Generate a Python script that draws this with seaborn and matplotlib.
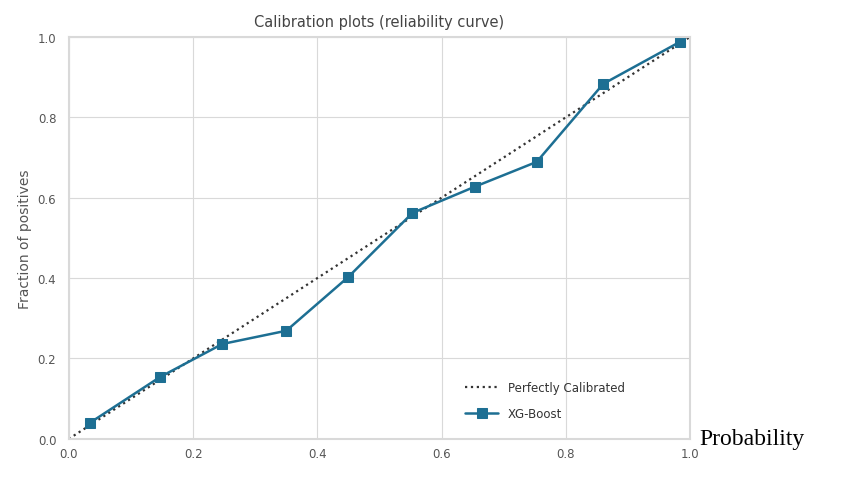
import numpy as np
import pandas as pd
import matplotlib.pyplot as plt
import seaborn as sns

# calibration curve values
mean_pred = [0.034, 0.147, 0.247, 0.350, 0.450, 0.553, 0.653, 0.753, 0.860, 0.984]
frac_pos = [0.040, 0.154, 0.236, 0.269, 0.403, 0.562, 0.627, 0.689, 0.883, 0.988]
diag = [0.0, 1.0]
ticks = [0.0, 0.2, 0.4, 0.6, 0.8, 1.0]

sns.set_style('whitegrid', {'axes.edgecolor': '#d9d9d9', 'grid.color': '#d9d9d9'})
plt.rcParams['font.family'] = ['DejaVu Sans']

fig = plt.figure(figsize=(8.49, 4.85), dpi=100)
ax = fig.add_axes([0.081, 0.093, 0.732, 0.829])

sns.lineplot(x=diag, y=diag, ax=ax, color='#333333', linestyle=':', linewidth=1.6,
             label='Perfectly Calibrated')
sns.lineplot(x=mean_pred, y=frac_pos, ax=ax, color='#1d6f93', marker='s', markersize=7,
             markeredgecolor='#1d6f93', linewidth=1.8, label='XG-Boost')

ax.set_xlim(0, 1)
ax.set_ylim(0, 1)
ax.set_xticks(ticks)
ax.set_yticks(ticks)
ax.tick_params(labelsize=8.5, colors='#555555', length=0)
ax.tick_params(axis='y', pad=9)
ax.tick_params(axis='x', pad=6)
ax.set_title('Calibration plots (reliability curve)', fontsize=10.5, color='#444444', pad=8)
ax.set_ylabel('Fraction of positives', fontsize=10, color='#555555')
for s in ax.spines.values():
    s.set_linewidth(1.5)

leg = ax.legend(loc='lower right', bbox_to_anchor=(0.912, 0.02), frameon=False,
                fontsize=8.5, handlelength=2.8, labelspacing=1.1)
for t in leg.get_texts():
    t.set_color('#333333')

fig.text(0.824, 0.093, 'Probability', family='Liberation Serif', fontsize=17,
         color='black', va='center', ha='left')

fig.savefig('out.png', dpi=100)
